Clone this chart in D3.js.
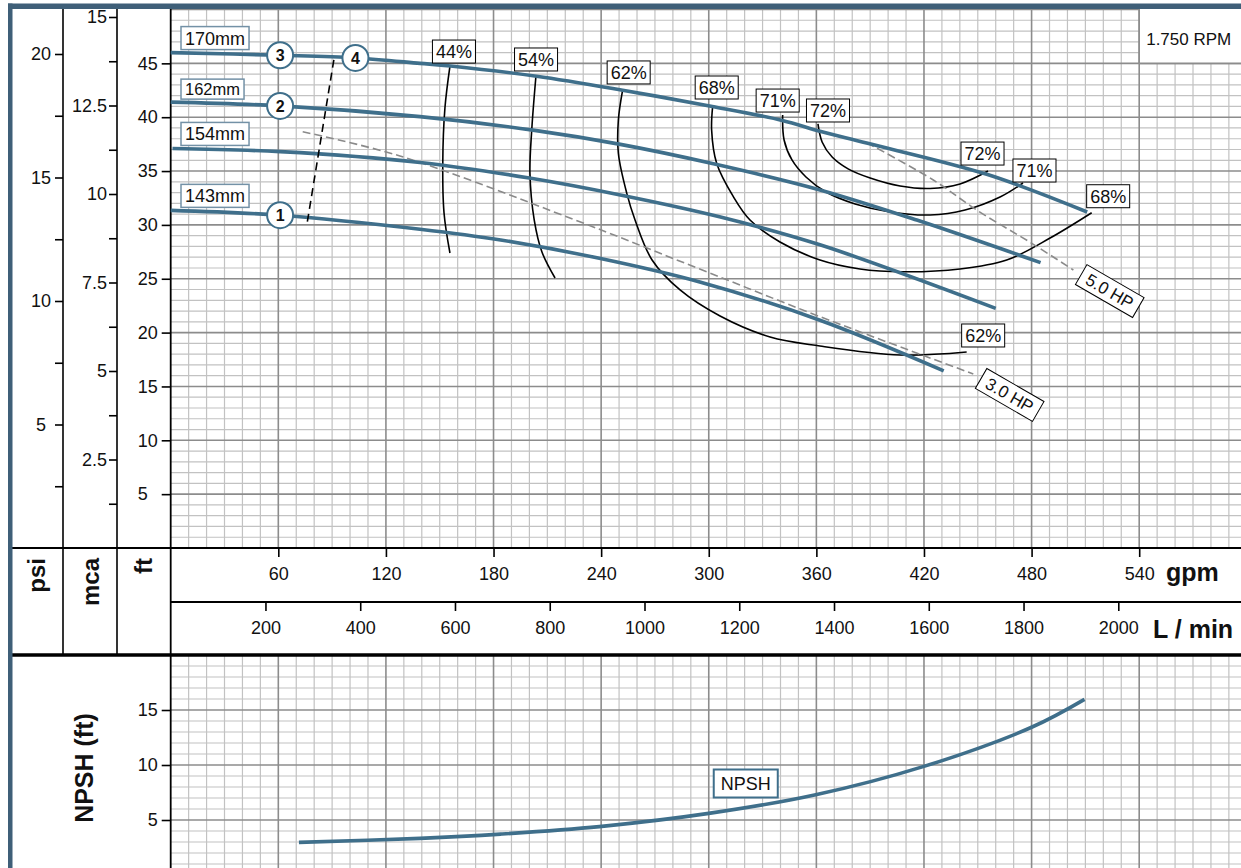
<!DOCTYPE html>
<html><head><meta charset="utf-8">
<script src="https://cdn.jsdelivr.net/npm/d3@7"></script>
<style>
html,body{margin:0;padding:0;background:#fff;}
svg{display:block;font-family:"Liberation Sans",Arial,sans-serif;}
</style></head><body>
<svg id="c" width="1241" height="868"></svg>
<script>
// ---------------- DATA ----------------
const gpmTicks = [60,120,180,240,300,360,420,480,540];
const lminTicks = [200,400,600,800,1000,1200,1400,1600,1800,2000];
const ftTicks = [5,10,15,20,25,30,35,40,45];
const psiTicks = [2.5,5,7.5,10,12.5,15,17.5,20];
const psiLabels = [5,10,15,20];
const mcaTicks = [1.25,2.5,3.75,5,6.25,7.5,8.75,10,11.25,12.5,13.75,15];
const mcaLabels = [2.5,5,7.5,10,12.5,15];
const npshTicks = [5,10,15];

const impellers = ["170mm","162mm","154mm","143mm"];
const q170 = [0,61,103,139,156,204,252,302,341,362,388,455,511];
const h170 = [46.0,45.75,45.5,45.0,44.75,43.8,42.5,41.0,39.7,38.7,37.6,34.7,31.2];
const q162 = [0,61,139,202,250,302,362,416,485];
const h162 = [41.4,41.05,40.05,38.8,37.5,35.7,33.25,30.45,26.5];
const q154 = [1,61,139,200,250,306,362,460];
const h154 = [37.1,36.8,35.8,34.35,32.8,30.75,28.15,22.25];
const q143 = [0,61,139,184,239,295,362,431];
const h143 = [31.35,30.9,29.6,28.6,26.9,24.7,21.15,16.45];

const effNames = ["44%","54%","62%","68%","71%","72%"];
const eff44Q = [155.7,152.9,151.7,152.4,155.7];
const eff44H = [44.75,40.85,35.77,31.11,27.39];
const eff54Q = [203.7,201.3,200.3,202.7,207,214.3];
const eff54H = [43.92,38.81,34.79,30.45,27.48,25.07];
const eff62Q = [252,249.6,249.6,254.3,258.9,268.4,284,306.3,334.2,362,406.6,443.8];
const eff62H = [42.53,39.74,36.65,32.93,30.45,26.74,23.96,21.54,19.59,18.76,17.92,18.2];
const eff68Q = [302.2,301.6,304.4,313.7,323,339.7,362,384.3,408.3,440.1,466.1,490.3,513.5];
const eff68H = [41.04,38.81,35.72,32.62,30.45,28.41,26.74,25.91,25.65,25.91,26.74,28.78,31.13];
const eff71Q = [341.2,342,346.4,354.2,365.4,381.6,401.1,423.4,442.9,462.4,475.2];
const eff71H = [40.2,37.88,36.03,34.45,33.05,31.94,31.2,30.92,31.38,32.59,33.89];
const eff72Q = [360.9,363.2,368.8,377.7,390,406.7,423.4,440.1,455.7];
const eff72H = [39.37,37.7,36.3,35.2,34.35,33.61,33.38,33.8,35.0];
const effEndLabel = [false,false,true,true,true,true];

const powerNames = ["3.0 HP","5.0 HP"];
const pow3Q = [73.6,127.8,224.5,295,362,447.5];
const pow3H = [38.65,36.4,30.52,25.9,21.48,16.16];
const pow5Q = [388.1,425.2,449.4,480.1,503.3];
const pow5H = [37.63,34.17,31.38,28.29,25.81];

const markerNames = ["3","4","2","1"];
const markerQ = [61,103,61,61];
const markerCurve = [0,0,1,3];

const trimQ = [76.2,91.2];
const trimH = [30.3,45.56];

const npshQ = [71.5,139,184,239,300,359,419.5,480,509.5];
const npshH = [2.97,3.33,3.72,4.4,5.6,7.27,9.85,13.43,15.97];

const rpmText = "1.750 RPM";

// ---------------- LAYOUT ----------------
const W = 1241, H = 868;
const svg = d3.select("#c");
const BLUE = "#3f6f8b", FRAME = "#3f5f78";
const x = d3.scaleLinear().domain([0,540]).range([170.7,1139.2]);
const xL = d3.scaleLinear().domain([0,540*3.78541]).range([170.7,1139.2]);
const y = d3.scaleLinear().domain([0,50]).range([548,9.5]);
const yPsi = d3.scaleLinear().domain([0,20]).range([548,54]);
const yMca = d3.scaleLinear().domain([0,15]).range([548,17]);
const yN = d3.scaleLinear().domain([0,20]).range([875,655]);
const left = 170.7, topY = 9, plotBottom = 548, lminY = 602, sepY = 655;

// grids
function grid(g, yScale, maxV, y0, y1) {
  const gq = d3.range(10, 600, 10).filter(v => x(v) < W);
  g.selectAll(".vmin").data(gq.filter(v => v % 60 !== 0)).join("line")
    .attr("x1", d => x(d)).attr("x2", d => x(d)).attr("y1", y0).attr("y2", y1)
    .attr("stroke", "#c2c2c2").attr("stroke-width", 1.2);
  const hs = d3.range(1, maxV + 1).filter(v => yScale(v) >= y0 - 0.5 && yScale(v) <= y1);
  g.selectAll(".hmin").data(hs.filter(v => v % 5 !== 0)).join("line")
    .attr("x1", left).attr("x2", W).attr("y1", d => yScale(d)).attr("y2", d => yScale(d))
    .attr("stroke", "#c2c2c2").attr("stroke-width", 1.2);
  g.selectAll(".vmaj").data(gq.filter(v => v % 60 === 0)).join("line")
    .attr("x1", d => x(d)).attr("x2", d => x(d)).attr("y1", y0).attr("y2", y1)
    .attr("stroke", "#8c8c8c").attr("stroke-width", 1.6);
  g.selectAll(".hmaj").data(hs.filter(v => v % 5 === 0)).join("line")
    .attr("x1", left).attr("x2", W).attr("y1", d => yScale(d)).attr("y2", d => yScale(d))
    .attr("stroke", "#8c8c8c").attr("stroke-width", 1.6);
}
grid(svg.append("g"), y, 50, topY, plotBottom);
grid(svg.append("g"), yN, 20, sepY, H);

// RPM box
svg.append("rect").attr("x", x(540)).attr("y", topY).attr("width", W - x(540)).attr("height", y(45) - topY)
  .attr("fill", "#fff");
svg.append("line").attr("x1", x(540)).attr("x2", x(540)).attr("y1", topY).attr("y2", y(45)).attr("stroke", "#8c8c8c").attr("stroke-width", 1.6);
svg.append("line").attr("x1", x(540)).attr("x2", W).attr("y1", y(45)).attr("y2", y(45)).attr("stroke", "#8c8c8c").attr("stroke-width", 1.6);
svg.append("text").attr("x", x(540) + 7).attr("y", 45).attr("font-size", 17).attr("fill", "#111").text(rpmText);

// structural lines
const L = svg.append("g").attr("stroke", "#000");
L.append("line").attr("x1", 63).attr("x2", 63).attr("y1", topY).attr("y2", sepY).attr("stroke-width", 1.6);
L.append("line").attr("x1", 117).attr("x2", 117).attr("y1", topY).attr("y2", sepY).attr("stroke-width", 1.6);
L.append("line").attr("x1", left).attr("x2", left).attr("y1", topY).attr("y2", H).attr("stroke-width", 1.8);
L.append("line").attr("x1", 12).attr("x2", W).attr("y1", plotBottom).attr("y2", plotBottom).attr("stroke-width", 1.8);
L.append("line").attr("x1", left).attr("x2", W).attr("y1", lminY).attr("y2", lminY).attr("stroke-width", 1.8);
L.append("line").attr("x1", 12).attr("x2", W).attr("y1", sepY).attr("y2", sepY).attr("stroke-width", 3.5);

// axes
function styleAxis(g) {
  g.select(".domain").remove();
  g.selectAll("line").attr("stroke", "#000").attr("stroke-width", 1.6);
  g.selectAll("text").attr("font-size", 18).attr("fill", "#111").attr("font-family", '"Liberation Sans",Arial,sans-serif');
}
svg.append("g").attr("transform", `translate(0,${plotBottom})`)
  .call(d3.axisBottom(x).tickValues(gpmTicks).tickSize(9).tickPadding(10).tickFormat(d3.format("d"))).call(styleAxis);
svg.append("g").attr("transform", `translate(0,${lminY})`)
  .call(d3.axisBottom(xL).tickValues(lminTicks).tickSize(9).tickPadding(10).tickFormat(d3.format("d"))).call(styleAxis);
const ftAx = svg.append("g").attr("transform", `translate(${left},0)`)
  .call(d3.axisLeft(y).tickValues(ftTicks).tickSize(9)).call(styleAxis);
ftAx.selectAll("text").attr("text-anchor", "start").attr("x", -33);
const psiAx = svg.append("g").attr("transform", `translate(63,0)`)
  .call(d3.axisLeft(yPsi).tickValues(psiTicks).tickSize(8)
    .tickFormat(d => psiLabels.includes(d) ? d3.format("d")(d) : "")).call(styleAxis);
psiAx.selectAll("text").attr("text-anchor", "middle").attr("x", -22);
const mcaAx = svg.append("g").attr("transform", `translate(117,0)`)
  .call(d3.axisLeft(yMca).tickValues(mcaTicks).tickSize(8).tickPadding(2)
    .tickFormat(d => mcaLabels.includes(d) ? String(d) : "")).call(styleAxis);
svg.append("g").attr("transform", `translate(${left},0)`)
  .call(d3.axisLeft(yN).tickValues(npshTicks).tickSize(9).tickPadding(4)).call(styleAxis);

// axis titles
function boldText(tx, ty, rot, anchor, s, size) {
  svg.append("text").attr("transform", `translate(${tx},${ty}) rotate(${rot})`)
    .attr("text-anchor", anchor).attr("font-weight", "bold").attr("font-size", size)
    .attr("fill", "#111").text(s);
}
boldText(45, 558, -90, "end", "psi", 24);
boldText(99, 558, -90, "end", "mca", 24);
boldText(152, 558, -90, "end", "ft", 24);
boldText(1166, 581, 0, "start", "gpm", 25);
boldText(1153, 638, 0, "start", "L / min", 25);
boldText(93, 768, -90, "middle", "NPSH (ft)", 25);

// efficiency curves
const effQ = [eff44Q, eff54Q, eff62Q, eff68Q, eff71Q, eff72Q];
const effH = [eff44H, eff54H, eff62H, eff68H, eff71H, eff72H];
const curve = d3.line().x(d => x(d[0])).y(d => y(d[1])).curve(d3.curveCatmullRom.alpha(0.5));
const gEff = svg.append("g");
effQ.forEach((qs, i) => {
  const pts = qs.map((q, j) => [q, effH[i][j]]);
  gEff.append("path").attr("d", curve(pts)).attr("fill", "none").attr("stroke", "#000").attr("stroke-width", 1.6);
});

// power curves
const powQ = [pow3Q, pow5Q], powH = [pow3H, pow5H];
powQ.forEach((qs, i) => {
  const pts = qs.map((q, j) => [q, powH[i][j]]);
  svg.append("path").attr("d", curve(pts)).attr("fill", "none").attr("stroke", "#8a8a8a")
    .attr("stroke-width", 1.6).attr("stroke-dasharray", "8,4");
});

// head curves
const headQ = [q170, q162, q154, q143], headH = [h170, h162, h154, h143];
headQ.forEach((qs, i) => {
  const pts = qs.map((q, j) => [q, headH[i][j]]);
  svg.append("path").attr("d", curve(pts)).attr("fill", "none").attr("stroke", BLUE)
    .attr("stroke-width", 3.6).attr("stroke-linecap", "butt");
});

// trim dashed line
svg.append("path").attr("d", d3.line()(trimQ.map((q, i) => [x(q), y(trimH[i])])))
  .attr("stroke", "#000").attr("stroke-width", 1.6).attr("stroke-dasharray", "8,5").attr("fill", "none");

// labelled box helper
function boxLabel(cx, cy, s, opt) {
  const g = svg.append("g").attr("transform", `translate(${cx},${cy}) rotate(${opt.rot || 0})`);
  const r = g.append("rect");
  const t = g.append("text").attr("font-size", opt.size).attr("fill", "#111")
    .attr("text-anchor", "middle").attr("dy", "0.36em").text(s);
  const w = t.node().getComputedTextLength() + opt.pad * 2;
  r.attr("x", -w / 2).attr("y", -opt.h / 2).attr("width", w).attr("height", opt.h)
    .attr("fill", "#fff").attr("stroke", opt.stroke).attr("stroke-width", opt.sw);
  return w;
}

// impeller labels
impellers.forEach((s, i) => {
  const fs = i === 1 ? 16.5 : 18;
  const hh = i === 1 ? 20 : 23;
  const tmp = svg.append("text").attr("font-size", fs).text(s);
  const tw = tmp.node().getComputedTextLength(); tmp.remove();
  const w = tw + 8;
  boxLabel(181 + w / 2, y(headH[i][0]) - 3 - hh / 2, s, {size: fs, pad: 4, h: hh, stroke: "#7391a6", sw: 1.5});
});

// efficiency labels (pixel nudges for layout only)
const topDx = [4, 0, 6, 4, -5, 10];
const topGap = [3, 4, 6, 7, 3, 2];
effNames.forEach((s, i) => {
  const q0 = effQ[i][0], h0 = effH[i][0];
  boxLabel(x(q0) + topDx[i], y(h0) - topGap[i] - 11.5, s, {size: 18, pad: 3.5, h: 23, stroke: "#000", sw: 1});
  if (effEndLabel[i]) {
    const n = effQ[i].length - 1;
    const ex = x(effQ[i][n]), ey = y(effH[i][n]);
    const dx = s === "72%" ? -27 : (s === "71%" ? -10 : -5);
    const gap = s === "72%" ? 6 : (s === "71%" ? 1 : 5);
    boxLabel(ex + dx + 21.5, ey - gap - 11.5, s, {size: 18, pad: 3.5, h: 23, stroke: "#000", sw: 1});
  }
});

// power labels
powerNames.forEach((s, i) => {
  const n = powQ[i].length - 1;
  const ex = x(powQ[i][n]), ey = y(powH[i][n]);
  const a = 30 * Math.PI / 180;
  boxLabel(ex + 42 * Math.cos(a), ey + 42 * Math.sin(a), s, {size: 17, pad: 7, h: 23, stroke: "#000", sw: 1, rot: 30});
});

// markers
function interp(qs, hs, q) {
  for (let j = 0; j < qs.length - 1; j++) {
    if (q >= qs[j] && q <= qs[j + 1]) {
      const t = (q - qs[j]) / (qs[j + 1] - qs[j]);
      return hs[j] + t * (hs[j + 1] - hs[j]);
    }
  }
  return hs[hs.length - 1];
}
markerNames.forEach((s, i) => {
  const c = markerCurve[i];
  const cx = x(markerQ[i]), cy = y(interp(headQ[c], headH[c], markerQ[i]));
  svg.append("circle").attr("cx", cx).attr("cy", cy).attr("r", 13)
    .attr("fill", "#fff").attr("stroke", BLUE).attr("stroke-width", 2);
  svg.append("text").attr("x", cx).attr("y", cy).attr("dy", "0.36em").attr("text-anchor", "middle")
    .attr("font-weight", "bold").attr("font-size", 16).attr("fill", "#111").text(s);
});

// NPSH curve
const npshLine = d3.line().x(d => x(d[0])).y(d => yN(d[1])).curve(d3.curveCatmullRom.alpha(0.5));
svg.append("path").attr("d", npshLine(npshQ.map((q, i) => [q, npshH[i]])))
  .attr("fill", "none").attr("stroke", BLUE).attr("stroke-width", 3.6);
boxLabel(x(300) + 37, yN(8.5) + 2, "NPSH", {size: 18, pad: 7, h: 28, stroke: BLUE, sw: 2});

// frame
svg.append("rect").attr("x", 8).attr("y", 3.5).attr("width", 4.5).attr("height", H).attr("fill", FRAME);
svg.append("rect").attr("x", 8).attr("y", 3.5).attr("width", W).attr("height", 5.5).attr("fill", FRAME);
</script>
</body></html>
